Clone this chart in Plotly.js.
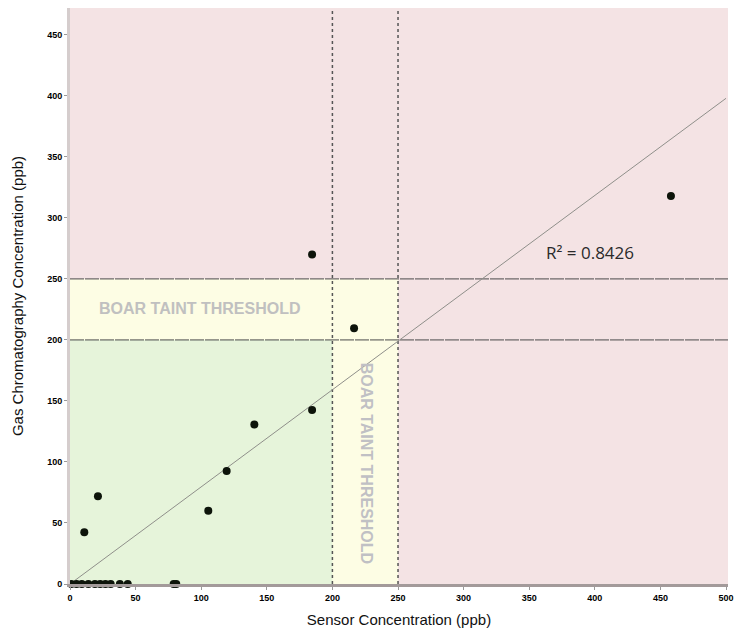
<!DOCTYPE html>
<html>
<head>
<meta charset="utf-8">
<script src="https://cdn.plot.ly/plotly-3.0.1.min.js"></script>
<style>html,body{margin:0;padding:0;background:#fff;}#chart{width:739px;height:635px;}</style>
</head>
<body>
<div id="chart"></div>
<script>
// Data
const sensorX = [1, 5, 9, 14, 19, 23, 27, 31, 38, 44, 79, 81, 10.9, 21.3, 105.4, 119.4, 140.5, 184.5, 184.5, 216.5, 458];
const gcY     = [0, 0, 0, 0,  0,  0,  0,  0,  0,  0,  0,  0,  42.4, 72,   60,    92.6,  130.6, 142.6, 270,   209.6, 318];
const trendX = [0, 500];
const trendY = [0, 398];
const thresholds = [200, 250];
const xTicks = [0, 50, 100, 150, 200, 250, 300, 350, 400, 450, 500];
const yTicks = [0, 50, 100, 150, 200, 250, 300, 350, 400, 450];
const r2Label = 'R² = 0.8426';
const thresholdLabel = 'BOAR TAINT THRESHOLD';

const xMax = 501.5, yMax = 472;

const traces = [
  {x: trendX, y: trendY, mode: 'lines', type: 'scatter',
   line: {color: '#8f8f8a', width: 1}, hoverinfo: 'skip', showlegend: false},
  {x: sensorX, y: gcY, mode: 'markers', type: 'scatter',
   marker: {color: '#0d140a', size: 8}, cliponaxis: false, showlegend: false}
];

const shapes = [
  {type: 'rect', layer: 'below', xref: 'x', yref: 'y', x0: 0, x1: thresholds[1], y0: 0, y1: thresholds[1],
   fillcolor: '#fdfde4', line: {width: 0}},
  {type: 'rect', layer: 'below', xref: 'x', yref: 'y', x0: 0, x1: thresholds[0], y0: 0, y1: thresholds[0],
   fillcolor: '#e6f4da', line: {width: 0}}
];
thresholds.forEach(t => {
  shapes.push({type: 'line', layer: 'below', xref: 'x', yref: 'y', x0: 0, x1: xMax, y0: t, y1: t,
    line: {color: '#4a4a4a', width: 1, dash: '14px,1px'}});
  shapes.push({type: 'line', layer: 'below', xref: 'x', yref: 'y', x0: t, x1: t, y0: 0, y1: yMax,
    line: {color: '#555555', width: 1.5, dash: 'dot'}});
});

const layout = {
  width: 739, height: 635,
  margin: {l: 70, r: 11, t: 8, b: 51},
  paper_bgcolor: '#ffffff',
  plot_bgcolor: '#f4e3e4',
  showlegend: false,
  xaxis: {
    range: [0, xMax], tickvals: xTicks, ticktext: xTicks.map(String),
    showgrid: false, zeroline: false, showline: true, linecolor: '#a39a9a', linewidth: 3,
    ticks: 'outside', ticklen: 3, tickcolor: '#999',
    tickfont: {family: 'Liberation Sans, Arial', size: 9, color: '#000', weight: 'bold'},
    title: {text: 'Sensor Concentration (ppb)', font: {family: 'Liberation Sans, Arial', size: 15, color: '#111'}, standoff: 13}
  },
  yaxis: {
    range: [0, yMax], tickvals: yTicks, ticktext: yTicks.map(String),
    showgrid: false, zeroline: false, showline: true, linecolor: '#d5cdcd', linewidth: 3,
    ticks: 'outside', ticklen: 3, tickcolor: '#999',
    tickfont: {family: 'Liberation Sans, Arial', size: 9, color: '#000', weight: 'bold'},
    title: {text: 'Gas Chromatography Concentration (ppb)', font: {family: 'Liberation Sans, Arial', size: 15, color: '#111'}, standoff: 20}
  },
  shapes: shapes,
  annotations: [
    {x: 98.7, y: 225.4, xref: 'x', yref: 'y', text: thresholdLabel, showarrow: false,
     font: {family: 'Liberation Sans, Arial', size: 16, color: '#c0c0c0', weight: 'bold'}},
    {x: 226, y: 99, xref: 'x', yref: 'y', text: thresholdLabel, showarrow: false, textangle: 90,
     font: {family: 'Liberation Sans, Arial', size: 16, color: '#c0c0c4', weight: 'bold'}},
    {x: 396, y: 272, xref: 'x', yref: 'y', text: r2Label, showarrow: false,
     font: {family: 'Open Sans, Noto Sans', size: 17, color: '#2a2a2a'}}
  ]
};

Plotly.newPlot('chart', traces, layout, {displayModeBar: false, staticPlot: true});
</script>
</body>
</html>
